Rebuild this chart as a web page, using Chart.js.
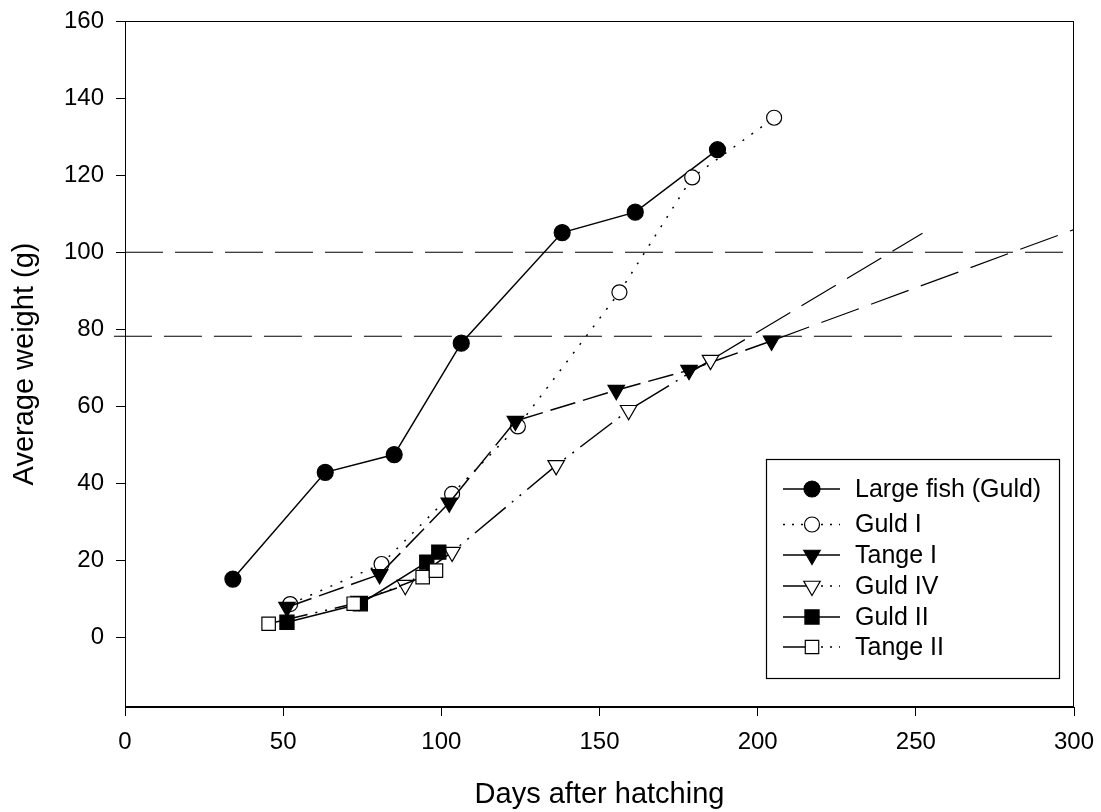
<!DOCTYPE html>
<html><head><meta charset="utf-8">
<script src="https://cdn.jsdelivr.net/npm/chart.js@4/dist/chart.umd.min.js"></script>
<style>html,body{margin:0;padding:0;background:#fff}#wrap{width:1101px;height:812px}</style>
</head><body><div id="wrap"><canvas id="c" width="1101" height="812"></canvas></div>
<script>
const xTicks = [0, 50, 100, 150, 200, 250, 300];
const yTicks = [0, 20, 40, 60, 80, 100, 120, 140, 160];

const seriesNames = ["Large fish (Guld)", "Guld I", "Tange I", "Guld IV", "Guld II", "Tange II"];

const largeFishDays   = [34.1, 63.3, 85.1, 106.3, 138.2, 161.3, 187.3];
const largeFishWeight = [15.2, 42.9, 47.5, 76.4, 105.1, 110.4, 126.6];

const guldIDays   = [52.2, 81.1, 103.4, 124.2, 156.3, 179.3, 205.2];
const guldIWeight = [8.7, 19.1, 37.3, 54.8, 89.6, 119.4, 134.9];

const tangeIDays   = [51.2, 80.5, 102.5, 123.4, 155.3, 178.3, 204.4];
const tangeIWeight = [7.9, 16.4, 35.0, 56.2, 64.2, 69.4, 77.0];

const guldIVDays   = [74.0, 88.6, 103.4, 136.3, 159.2, 185.1];
const guldIVWeight = [9.5, 13.6, 22.2, 44.7, 59.0, 72.0];

const guldIIDays   = [51.2, 74.4, 95.4, 99.2];
const guldIIWeight = [4.0, 8.8, 19.6, 22.2];

const tangeIIDays   = [45.4, 72.3, 94.1, 98.3];
const tangeIIWeight = [3.6, 8.8, 15.7, 17.4];

const upperTargetDays = [0, 300],    upperTargetWeight = [100, 100];
const lowerTargetDays = [-3.5, 296.5], lowerTargetWeight = [78.2, 78.2];
const extGuldIVDays = [185.1, 252.1], extGuldIVWeight = [72.0, 104.9];
const extTangeIDays = [204.4, 300],   extTangeIWeight = [77.0, 105.9];

const pts = (xs, ys) => xs.map((x, i) => ({ x: x, y: ys[i] }));

const DASHDOT2 = [40, 8, 2, 8, 2, 8];
const styles = [
  { style: 'circle',   rot: 0,   r: 8,   fill: '#000', dash: [],       legL: [], legR: [] },
  { style: 'circle',   rot: 0,   r: 7.5, fill: '#fff', dash: [2, 9],   legL: [2, 7], legR: [2, 7] },
  { style: 'triangle', rot: 180, r: 9.5, fill: '#000', dash: [26, 8],  legL: [], legR: [] },
  { style: 'triangle', rot: 180, r: 9.5, fill: '#fff', dash: DASHDOT2, legL: [], legR: [2, 7] },
  { style: 'rect',     rot: 0,   r: 10,  fill: '#000', dash: [],       legL: [], legR: [] },
  { style: 'rect',     rot: 0,   r: 9.5, fill: '#fff', dash: DASHDOT2, legL: [], legR: [2, 7] }
];
const legendRowsY = [489, 524.5, 555, 586, 617, 647];

const seriesData = [
  pts(largeFishDays, largeFishWeight),
  pts(guldIDays, guldIWeight),
  pts(tangeIDays, tangeIWeight),
  pts(guldIVDays, guldIVWeight),
  pts(guldIIDays, guldIIWeight),
  pts(tangeIIDays, tangeIIWeight)
];

const datasets = seriesNames.map((name, i) => ({
  label: name,
  data: seriesData[i],
  showLine: true,
  borderColor: '#000',
  borderWidth: 1.5,
  borderDash: styles[i].dash,
  pointStyle: styles[i].style,
  rotation: styles[i].rot,
  pointRadius: styles[i].r,
  pointHoverRadius: styles[i].r,
  pointBackgroundColor: styles[i].fill,
  pointBorderColor: '#000',
  pointBorderWidth: 1.2,
  order: 10 - i,
  isSeries: true,
  legendIndex: i
}));

const refLine = (data, dash, w, clip) => ({
  label: '', data: data, showLine: true, borderColor: '#000', borderWidth: w,
  borderDash: dash, pointRadius: 0, pointHoverRadius: 0, order: 20, isSeries: false,
  clip: clip
});
datasets.push(refLine(pts(upperTargetDays, upperTargetWeight), [38, 12], 1.2, 0));
datasets.push(refLine(pts(lowerTargetDays, lowerTargetWeight), [38, 12], 1.2, false));
datasets.push(refLine(pts(extGuldIVDays, extGuldIVWeight), [40, 13], 1.2, 0));
datasets.push(refLine(pts(extTangeIDays, extTangeIWeight), [40, 13], 1.2, 0));

const FONT = "'Liberation Sans', Arial, sans-serif";

const framePlugin = {
  id: 'frame',
  afterDraw(chart) {
    const { ctx, chartArea: a } = chart;
    ctx.save();
    ctx.strokeStyle = '#000';
    ctx.lineWidth = 1;
    ctx.setLineDash([]);
    ctx.strokeRect(Math.round(a.left) + 0.5, Math.round(a.top) + 0.5,
      Math.round(a.right - a.left) - 1, Math.round(a.bottom - a.top) - 1);
    ctx.restore();
  }
};

function drawMarker(ctx, s, x, y) {
  ctx.save();
  ctx.fillStyle = s.fill;
  ctx.strokeStyle = '#000';
  ctx.lineWidth = 1.2;
  ctx.setLineDash([]);
  ctx.beginPath();
  if (s.style === 'circle') {
    ctx.arc(x, y, s.r, 0, Math.PI * 2);
  } else if (s.style === 'rect') {
    const h = s.r * Math.SQRT1_2;
    ctx.rect(x - h, y - h, 2 * h, 2 * h);
  } else {
    ctx.moveTo(x, y + s.r);
    ctx.lineTo(x + s.r * Math.sin(Math.PI / 3), y - s.r / 2);
    ctx.lineTo(x - s.r * Math.sin(Math.PI / 3), y - s.r / 2);
    ctx.closePath();
  }
  ctx.fill();
  ctx.stroke();
  ctx.restore();
}

const legendPlugin = {
  id: 'boxLegend',
  afterDraw(chart) {
    const ctx = chart.ctx;
    const box = { l: 766, t: 459, r: 1059, b: 678 };
    ctx.save();
    ctx.strokeStyle = '#000';
    ctx.lineWidth = 1.2;
    ctx.setLineDash([]);
    ctx.strokeRect(box.l + 0.5, box.t + 0.5, box.r - box.l, box.b - box.t);
    const rows = chart.data.datasets.filter(d => d.isSeries);
    rows.forEach((d, k) => {
      const s = styles[d.legendIndex];
      const y = legendRowsY[k];
      const x0 = 783, xm = 812, x1 = 840;
      ctx.strokeStyle = '#000';
      ctx.lineWidth = 1.5;
      ctx.setLineDash(s.legL);
      ctx.beginPath(); ctx.moveTo(x0, y); ctx.lineTo(xm, y); ctx.stroke();
      ctx.setLineDash(s.legR);
      ctx.beginPath(); ctx.moveTo(xm, y); ctx.lineTo(x1, y); ctx.stroke();
      drawMarker(ctx, s, xm, y);
      ctx.setLineDash([]);
      ctx.fillStyle = '#000';
      ctx.font = '25px ' + FONT;
      ctx.textBaseline = 'middle';
      ctx.textAlign = 'left';
      ctx.fillText(d.label, 855, y + 1);
    });
    ctx.restore();
  }
};

new Chart(document.getElementById('c'), {
  type: 'scatter',
  data: { datasets: datasets },
  plugins: [framePlugin, legendPlugin],
  options: {
    responsive: false,
    animation: false,
    events: [],
    layout: { padding: { top: 21, right: 27, left: 0, bottom: 0 } },
    plugins: { legend: { display: false }, tooltip: { enabled: false } },
    scales: {
      x: {
        type: 'linear', min: 0, max: 300,
        afterBuildTicks: sc => { sc.ticks = xTicks.map(v => ({ value: v })); },
        afterFit: sc => { sc.height = 105; sc.paddingLeft = 0; sc.paddingRight = 0; },
        grid: { display: true, drawOnChartArea: false, drawTicks: true, tickLength: 9, tickColor: '#000', tickWidth: 1 },
        border: { display: true, color: '#000', width: 1 },
        ticks: { color: '#000', font: { family: FONT, size: 24 }, padding: 12, maxRotation: 0, autoSkip: false },
        title: { display: true, text: 'Days after hatching', color: '#000', font: { family: FONT, size: 29 }, padding: { top: 10, bottom: 0 } }
      },
      y: {
        type: 'linear', min: -18, max: 160,
        afterBuildTicks: sc => { sc.ticks = yTicks.map(v => ({ value: v })); },
        afterFit: sc => { sc.width = 125; sc.paddingTop = 0; sc.paddingBottom = 0; },
        grid: { display: true, drawOnChartArea: false, drawTicks: true, tickLength: 9, tickColor: '#000', tickWidth: 1 },
        border: { display: true, color: '#000', width: 1 },
        ticks: { color: '#000', font: { family: FONT, size: 24 }, padding: 12, autoSkip: false },
        title: { display: true, text: 'Average weight (g)', color: '#000', font: { family: FONT, size: 29 }, padding: { top: 8, bottom: 0 } }
      }
    }
  }
});
</script>
</body></html>
